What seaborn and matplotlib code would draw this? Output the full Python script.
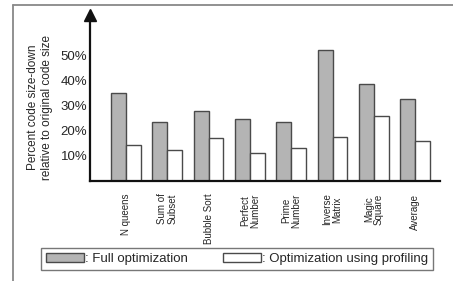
import matplotlib
matplotlib.use("Agg")
import matplotlib.pyplot as plt
import pandas as pd
import seaborn as sns
from matplotlib.patches import Patch
from matplotlib.lines import Line2D

categories = ["N queens", "Sum of\nSubset", "Bubble Sort", "Perfect\nNumber",
              "Prime\nNumber", "Inverse\nMatrix", "Magic\nSquare", "Average"]
full_opt = [35, 23.5, 28, 24.5, 23.5, 52, 38.5, 32.5]
profiling_opt = [14.5, 12.5, 17, 11, 13, 17.5, 26, 16]
series = ["Full optimization", "Optimization using profiling"]
yticks = [10, 20, 30, 40, 50]

df = pd.DataFrame({
    "program": categories * 2,
    "series": [series[0]] * len(categories) + [series[1]] * len(categories),
    "value": full_opt + profiling_opt,
})

sns.set_theme(style="white")
plt.rcParams['font.family'] = ['Liberation Sans', 'DejaVu Sans']

fig = plt.figure(figsize=(4.53, 2.81), dpi=100)
ax = fig.add_axes([90 / 453, 1 - 181 / 281, 350 / 453, 166 / 281])

colors = {series[0]: "#b4b4b4", series[1]: "#ffffff"}
sns.barplot(data=df, x="program", y="value", hue="series", palette=colors,
            width=0.72, edgecolor="#4a4a4a", linewidth=1.0, legend=False, ax=ax)

ax.set_xlim(-0.87, 7.6)
ax.set_ylim(0, 66)
ax.set_yticks(yticks)
ax.set_yticklabels([f"{t}%" for t in yticks], fontsize=9.5)
ax.tick_params(axis="y", direction="in", length=8, width=2, color="#111", pad=2)
ax.tick_params(axis="x", length=0, pad=9)
for lbl in ax.get_xticklabels():
    lbl.set_rotation(90)
    lbl.set_fontsize(7)
    lbl.set_va("top")
    lbl.set_ha("center")
    lbl.set_linespacing(1.0)
ax.set_xlabel("")
ax.set_ylabel("")

sns.despine(ax=ax)
ax.spines["left"].set_linewidth(1.6)
ax.spines["bottom"].set_linewidth(1.6)
ax.spines["left"].set_color("#111")
ax.spines["bottom"].set_color("#111")
# arrow head on y axis
ax.plot(0, 1, marker="^", ms=9, color="#111", transform=ax.transAxes, clip_on=False)

fig.text(40 / 453, 1 - 107 / 281, "Percent code size-down\nrelative to original code size",
         rotation=90, ha="center", va="center", fontsize=8.5, linespacing=1.3)

handles = [Patch(facecolor=colors[s], edgecolor="#4a4a4a") for s in series]
fig.legend(handles, [": " + s for s in series], ncol=2, loc="center",
           bbox_to_anchor=(237 / 453, 1 - 259 / 281), fontsize=9.5,
           frameon=True, fancybox=False, edgecolor="#555", handlelength=2.9,
           handletextpad=0.1, columnspacing=2.6, borderpad=0.35, borderaxespad=0)

# scanned border lines
fig.add_artist(Line2D([13 / 453, 13 / 453], [1 - 5 / 281, 0], color="#888", lw=1.3))
fig.add_artist(Line2D([13 / 453, 1], [1 - 5 / 281, 1 - 5 / 281], color="#888", lw=1.3))

fig.savefig("out.png", dpi=100)
